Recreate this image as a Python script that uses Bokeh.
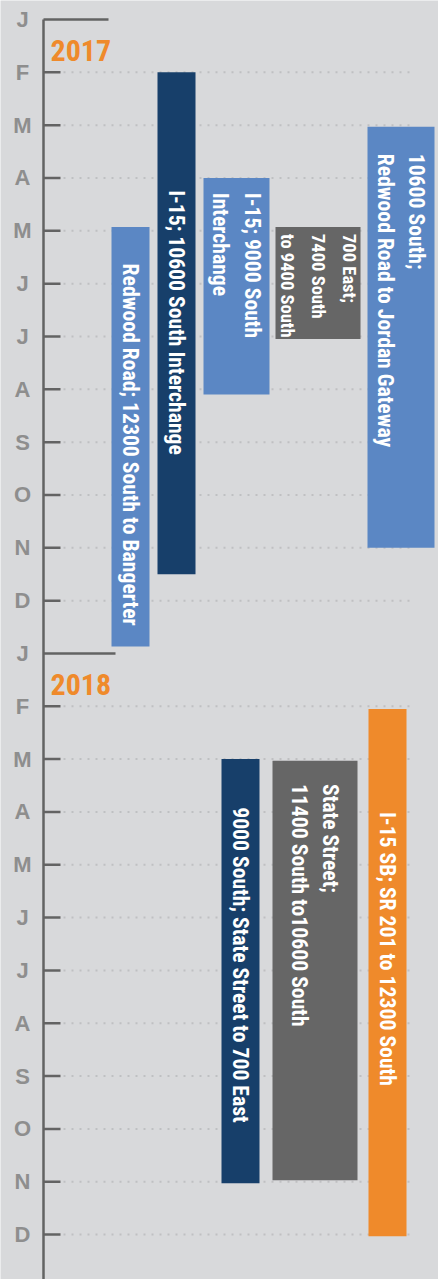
import numpy as np
from bokeh.plotting import figure
from bokeh.models import Range1d, ColumnDataSource
from bokeh.core.properties import value
from bokeh.embed import file_html
from bokeh.resources import INLINE

# ---------------- data ----------------
month_labels = ["J", "F", "M", "A", "M", "J", "J", "A", "S", "O", "N", "D"]
years = ["2017", "2018"]
projects = [
    "I-15; 10600 South Interchange",
    "Redwood Road; 12300 South to Bangerter",
    "I-15; 9000 South\nInterchange",
    "700 East;\n7400 South\nto 9400 South",
    "10600 South;\nRedwood Road to Jordan Gateway",
    "9000 South; State Street to 700 East",
    "State Street;\n11400 South to10600 South",
    "I-15 SB; SR 201 to 12300 South",
]
# months elapsed since January 2017
start_month = [1.0, 3.93, 3.0, 3.93, 2.03, 14.0, 14.03, 13.05]
end_month = [10.5, 11.87, 7.1, 6.05, 10.0, 22.03, 21.97, 23.03]

# ---------------- layout / style ----------------
BG = "#d8d9db"
NAVY = "#173f6a"
BLUE = "#5b87c4"
GRAY = "#666666"
ORANGE = "#ef8a2b"
AXIS = "#636363"
LABEL = "#8e8e8e"
DOTS = "#bfc0c2"
NARROW = "Roboto Condensed"

lane_center = [176, 130, 236, 317.5, 400.5, 240, 314.5, 387]
lane_width = [38, 38, 66, 85, 67, 38, 85, 38]
bar_colors = [NAVY, BLUE, BLUE, GRAY, BLUE, NAVY, GRAY, ORANGE]
label_offset = [2.23, 0.69, 0.28, 0.13, 0.51, 0.91, 0.44, 1.95]
small_label = [False, False, False, True, False, False, False, False]

W, H = 438, 1279
PX0, PXM = 19.0, 52.83  # pixel of Jan 2017, pixels per month
y_top = (0 - PX0) / PXM
y_bot = (H - PX0) / PXM

p = figure(width=W, height=H, output_backend="svg", toolbar_location=None,
           x_range=Range1d(0, W), y_range=Range1d(y_bot, y_top),
           x_axis_type=None, y_axis_type=None, min_border=0,
           background_fill_color=BG, border_fill_color=BG,
           outline_line_color=None)
p.grid.visible = False

n_months = 12 * len(years)
months = list(range(n_months))
labels = [month_labels[m % 12] for m in months]

# dotted grid lines (not at January)
grid_m = [m for m in months if m % 12 != 0]
p.segment(x0=63, x1=411, y0=grid_m, y1=grid_m, line_color=DOTS,
          line_width=2, line_dash="2 6")

# bars
src = ColumnDataSource(dict(
    left=[c - w / 2 for c, w in zip(lane_center, lane_width)],
    right=[c + w / 2 for c, w in zip(lane_center, lane_width)],
    top=start_month, bottom=end_month, color=bar_colors))
p.quad(left="left", right="right", top="top", bottom="bottom",
       fill_color="color", line_color=None, source=src)

# bar labels
for small in (False, True):
    idx = [i for i in range(len(projects)) if small_label[i] == small]
    p.text(x=[lane_center[i] for i in idx],
           y=[start_month[i] + label_offset[i] for i in idx],
           text=[projects[i] for i in idx],
           angle=-np.pi / 2, text_align="left", text_baseline="middle",
           text_color="white", text_font=value(NARROW), text_font_style="bold",
           text_font_size="18.5px" if small else "21.7px",
           text_line_height=1.4 if small else 1.27)

# axis line
p.segment(x0=43, x1=43, y0=0, y1=y_bot, line_color=AXIS, line_width=2.5)

# month ticks
tick_m = grid_m
p.segment(x0=43, x1=60, y0=tick_m, y1=tick_m, line_color=AXIS, line_width=2.5)
jan_m = [12 * i for i in range(len(years))]
p.segment(x0=43, x1=[108, 115], y0=jan_m, y1=jan_m, line_color=AXIS, line_width=2.5)

# month labels
p.text(x=22, y=months, text=labels, text_align="center", text_baseline="middle",
       text_color=LABEL, text_font=value("Liberation Sans"), text_font_style="bold",
       text_font_size="22px")

# year labels
p.text(x=50, y=[m + 0.58 for m in jan_m], text=years, text_align="left",
       text_baseline="alphabetic", text_color=ORANGE, text_font=value(NARROW),
       text_font_style="bold", text_font_size="30px")

open("out.html", "w").write(file_html(p, INLINE))
